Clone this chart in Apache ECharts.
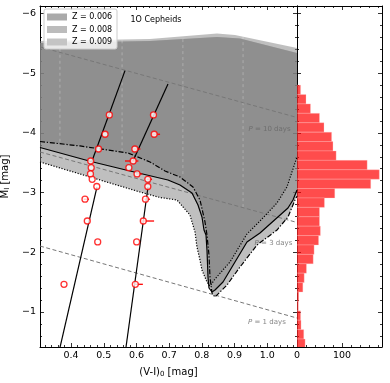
<!DOCTYPE html>
<html>
<head>
<meta charset="utf-8">
<script src="https://cdn.jsdelivr.net/npm/echarts@6/dist/echarts.min.js"></script>
<style>
  html, body { margin: 0; padding: 0; background: #fff; }
  #main { width: 390px; height: 383px; }
</style>
</head>
<body>
<div id="main"></div>
<script>
// axis ranges
var XMIN = 0.305, XMAX = 1.091;
var YMIN = -6.125, YMAX = -0.414;
var HMAX = 189;

var xTicks = [0.4, 0.5, 0.6, 0.7, 0.8, 0.9, 1.0];
var yTicks = [-6, -5, -4, -3, -2, -1];
var hTicks = [0, 100];

// instability strips (upper edge and lower edge, left -> right)
var top009 = [[0.305, -5.539], [0.6414, -5.573], [0.8463, -5.665], [0.9013, -5.640], [1.091, -5.422]];
var top008 = [[0.305, -5.506], [0.6414, -5.539], [0.8463, -5.606], [0.9166, -5.581], [1.091, -5.338]];
var top006 = top008;
var edge006 = [[0.305, -3.513], [0.4885, -3.211], [0.6108, -3.010], [0.672, -2.918], [0.724, -2.876], [0.7637, -2.625],
  [0.779, -2.340], [0.7851, -2.089], [0.7943, -1.871], [0.8004, -1.704], [0.8066, -1.620], [0.8157, -1.503],
  [0.8249, -1.436], [0.8402, -1.553], [0.8861, -1.838], [0.938, -2.307], [0.9778, -2.524], [1.0298, -2.826],
  [1.0603, -3.094], [1.0756, -3.345], [1.091, -3.596]];
var edge008 = [[0.305, -3.755], [0.461, -3.521], [0.5802, -3.362], [0.6964, -3.211], [0.7331, -3.127], [0.7698, -2.993],
  [0.7882, -2.792], [0.8004, -2.591], [0.8066, -2.374], [0.8127, -2.290], [0.8157, -2.039], [0.8188, -1.586],
  [0.8218, -1.402], [0.831, -1.335], [0.8402, -1.369], [0.8647, -1.503], [0.938, -2.173], [0.9778, -2.323],
  [1.0634, -2.742], [1.0787, -2.876], [1.091, -3.044]];
var edge009 = [[0.305, -3.856], [0.4273, -3.781], [0.5741, -3.663], [0.6414, -3.513], [0.6873, -3.362], [0.7331, -3.261],
  [0.7729, -3.094], [0.7943, -2.876], [0.8096, -2.508], [0.8157, -2.290], [0.8218, -1.955], [0.8249, -1.586],
  [0.831, -1.318], [0.8402, -1.251], [0.8769, -1.452], [0.9166, -1.753], [0.9686, -2.122], [1.0298, -2.373],
  [1.0634, -2.591], [1.0848, -2.876], [1.091, -2.94]];

// model grid columns [x, top, bottom]
var gridCols = [[0.366, -5.51, -3.83], [0.556, -5.55, -3.70], [0.742, -5.57, -3.28], [0.926, -5.62, -2.71]];

// constant period lines
var pLine10 = [[0.305, -5.44], [1.091, -4.258]];
var pLine3 = [[0.305, -3.68], [1.091, -2.50]];
var pLine1 = [[0.305, -2.105], [1.091, -0.899]];
var pLabels = [[1.007, -4.065, '10'], [1.019, -2.156, '3'], [0.999, -0.832, '1']];

// relations
var relAup = [[0.565, -5.042], [0.464, -3.529]];
var relAlow = [[0.4793, -3.094], [0.3662, -0.409]];
var relBup = [[0.6964, -4.819], [0.5894, -3.529]];
var relBlow = [[0.6353, -3.094], [0.568, -0.41]];

// stars
var mags = [-4.300, -3.977, -3.730, -3.529, -3.417, -3.312, -3.223, -3.102, -2.889, -2.524, -2.173, -1.464];
var colorA = [0.517, 0.504, 0.484, 0.460, 0.4616, 0.4594, 0.4646, 0.4787, 0.4426, 0.4496, 0.4815, 0.3784];
var colorB = [0.652, 0.6542, 0.5951, 0.5899, 0.5768, 0.6018, 0.6347, 0.6347, 0.6276, 0.6209, 0.6006, 0.5966];
var errA = [[0, 0], [0, 0], [0, 0], [0, 0], [0, 0], [0, 0], [0, 0], [0, 0], [0.004, 0.012], [0, 0], [0, 0], [0, 0]];
var errB = [[0, 0], [0.008, 0.018], [0.004, 0.017], [0.025, 0.016], [0, 0], [0.003, 0.016], [0.003, 0.013], [0, 0],
  [0.003, 0.014], [0.010, 0.033], [0, 0], [0.003, 0.023]];

// histogram of M_I
var binStart = -4.80, binWidth = 0.1575;
var counts = [8, 20, 30, 50, 60, 77, 80, 87, 156, 183, 164, 84, 61, 50, 50, 52, 48, 38, 36, 21, 16, 13, 4, 3, 8, 9, 15, 18];

var FONT = 'DejaVu Sans';

function minorList(a, b, step, majors) {
  var out = [];
  for (var v = a; v <= b + 1e-9; v += step) {
    var r = Math.round(v * 1000) / 1000;
    var isMajor = majors.some(function (m) { return Math.abs(m - r) < 1e-6; });
    if (!isMajor) out.push(r);
  }
  return out;
}
var xMinor = minorList(0.32, 1.08, 0.02, xTicks);
var yMinor = minorList(-6, -0.6, 0.2, yTicks);
var hMinor = minorList(20, 180, 20, hTicks);

function mkAxis(o) {
  return {
    type: 'value', gridIndex: o.grid, position: o.pos, min: o.min, max: o.max, inverse: !!o.inverse,
    name: o.name || '', nameLocation: 'middle', nameGap: o.gap || 20,
    nameTextStyle: { fontSize: 10, color: '#000', fontFamily: FONT,
      rich: { s: { fontSize: 7, fontFamily: FONT, color: '#000', padding: [5, 0, 0, 0] } } },
    axisLine: { show: !!o.line, onZero: false, lineStyle: { color: '#000', width: 1 } },
    axisTick: { show: true, inside: true, length: o.len, customValues: o.ticks, lineStyle: { color: '#000', width: 0.8 } },
    axisLabel: { show: !!o.labels, customValues: o.ticks, formatter: o.fmt, fontSize: 9.5, color: '#000', fontFamily: FONT, margin: 4 },
    splitLine: { show: false }, minorTick: { show: false }
  };
}
var fmtY = function (v) { return (v < 0 ? '\u2212' : '') + Math.abs(v); };
var fmtX = function (v) { return v.toFixed(1); };
var fmtH = function (v) { return String(v); };

var xAxes = [
  mkAxis({ grid: 0, pos: 'bottom', min: XMIN, max: XMAX, line: true, len: 4, ticks: xTicks, labels: true, fmt: fmtX, name: '(V-I){s|0} [mag]', gap: 19 }),
  mkAxis({ grid: 0, pos: 'bottom', min: XMIN, max: XMAX, len: 2, ticks: xMinor }),
  mkAxis({ grid: 0, pos: 'top', min: XMIN, max: XMAX, line: true, len: 4, ticks: xTicks }),
  mkAxis({ grid: 0, pos: 'top', min: XMIN, max: XMAX, len: 2, ticks: xMinor }),
  mkAxis({ grid: 1, pos: 'bottom', min: 0, max: HMAX, line: true, len: 4, ticks: hTicks, labels: true, fmt: fmtH }),
  mkAxis({ grid: 1, pos: 'bottom', min: 0, max: HMAX, len: 2, ticks: hMinor }),
  mkAxis({ grid: 1, pos: 'top', min: 0, max: HMAX, line: true, len: 4, ticks: hTicks }),
  mkAxis({ grid: 1, pos: 'top', min: 0, max: HMAX, len: 2, ticks: hMinor })
];
var yAxes = [
  mkAxis({ grid: 0, pos: 'left', min: YMIN, max: YMAX, inverse: true, line: true, len: 4, ticks: yTicks, labels: true, fmt: fmtY, name: 'M{s|I} [mag]', gap: 22 }),
  mkAxis({ grid: 0, pos: 'left', min: YMIN, max: YMAX, inverse: true, len: 2, ticks: yMinor }),
  mkAxis({ grid: 0, pos: 'right', min: YMIN, max: YMAX, inverse: true, line: true, len: 4, ticks: yTicks }),
  mkAxis({ grid: 0, pos: 'right', min: YMIN, max: YMAX, inverse: true, len: 2, ticks: yMinor }),
  mkAxis({ grid: 1, pos: 'left', min: YMIN, max: YMAX, inverse: true, line: true, len: 4, ticks: yTicks }),
  mkAxis({ grid: 1, pos: 'left', min: YMIN, max: YMAX, inverse: true, len: 2, ticks: yMinor }),
  mkAxis({ grid: 1, pos: 'right', min: YMIN, max: YMAX, inverse: true, line: true, len: 4, ticks: yTicks }),
  mkAxis({ grid: 1, pos: 'right', min: YMIN, max: YMAX, inverse: true, len: 2, ticks: yMinor })
];

function stripSeries(top, edge) {
  var poly = top.concat(edge.slice().reverse());
  return {
    type: 'custom', xAxisIndex: 0, yAxisIndex: 0, clip: true, silent: true, z: 1,
    data: [[XMIN, YMIN]],
    renderItem: function (params, api) {
      return { type: 'polygon', shape: { points: poly.map(function (p) { return api.coord(p); }) },
        style: { fill: 'rgba(128,128,128,0.5)' } };
    }
  };
}
function lineSeries(data, color, type, width, z) {
  return {
    type: 'line', xAxisIndex: 0, yAxisIndex: 0, data: data, symbol: 'none', silent: true, z: z || 3,
    lineStyle: { color: color, type: type, width: width }, clip: true
  };
}

var series = [
  stripSeries(top006, edge006),
  stripSeries(top008, edge008),
  stripSeries(top009, edge009)
];
gridCols.forEach(function (g) {
  series.push(lineSeries([[g[0], g[1]], [g[0], g[2]]], 'rgba(255,255,255,0.35)', [3, 3], 0.8, 2));
});
series.push(lineSeries(pLine10, '#777', [4, 2.5], 1));
series.push(lineSeries(pLine3, '#777', [4, 2.5], 1));
series.push(lineSeries(pLine1, '#777', [4, 2.5], 1));
series.push(lineSeries(edge006, '#000', [1.2, 1.6], 1.2, 4));
series.push(lineSeries(edge008, '#000', 'solid', 1.2, 4));
series.push(lineSeries(edge009, '#000', [5, 1.8, 1.3, 1.8], 1.2, 4));
series.push(lineSeries(relAup, '#000', 'solid', 1.2, 5));
series.push(lineSeries(relAlow, '#000', 'solid', 1.2, 5));
series.push(lineSeries(relBup, '#000', 'solid', 1.2, 5));
series.push(lineSeries(relBlow, '#000', 'solid', 1.2, 5));

// P labels
series.push({
  type: 'scatter', xAxisIndex: 0, yAxisIndex: 0, symbolSize: 0, silent: true, z: 6,
  data: pLabels.map(function (p) { return { value: [p[0], p[1]], name: p[2] }; }),
  label: {
    show: true, position: 'inside',
    formatter: function (p) { return '{i|P} = ' + p.name + ' days'; },
    fontSize: 7, color: '#666', fontFamily: FONT,
    rich: { i: { fontStyle: 'italic', fontSize: 7, color: '#666', fontFamily: FONT } }
  }
});

// error bars
var errData = [];
mags.forEach(function (m, i) {
  if (errA[i][0] || errA[i][1]) errData.push([colorA[i] - errA[i][0], colorA[i] + errA[i][1], m]);
  if (errB[i][0] || errB[i][1]) errData.push([colorB[i] - errB[i][0], colorB[i] + errB[i][1], m]);
});
series.push({
  type: 'custom', xAxisIndex: 0, yAxisIndex: 0, silent: true, z: 7, clip: true,
  data: errData, encode: { x: [0, 1], y: 2 },
  renderItem: function (params, api) {
    var a = api.coord([api.value(0), api.value(2)]);
    var b = api.coord([api.value(1), api.value(2)]);
    return { type: 'line', shape: { x1: a[0], y1: a[1], x2: b[0], y2: b[1] }, style: { stroke: '#ff0000', lineWidth: 1.3 } };
  }
});

// stars
var starData = mags.map(function (m, i) { return [colorA[i], m]; })
  .concat(mags.map(function (m, i) { return [colorB[i], m]; }));
series.push({
  type: 'scatter', xAxisIndex: 0, yAxisIndex: 0, silent: true, z: 8,
  symbol: 'circle', symbolSize: 6, data: starData,
  itemStyle: { color: '#fff', borderColor: '#ff0000', borderWidth: 1.3 }
});

// histogram
series.push({
  type: 'custom', xAxisIndex: 4, yAxisIndex: 4, silent: true, clip: true, z: 2,
  data: counts.map(function (c, i) { return [c, binStart + i * binWidth, binStart + (i + 1) * binWidth]; }),
  encode: { x: 0, y: [1, 2] },
  renderItem: function (params, api) {
    var p1 = api.coord([0, api.value(1)]);
    var p2 = api.coord([api.value(0), api.value(2)]);
    return { type: 'rect',
      shape: { x: p1[0], y: Math.min(p1[1], p2[1]), width: p2[0] - p1[0], height: Math.abs(p2[1] - p1[1]) },
      style: { fill: 'rgba(255,0,0,0.7)', stroke: 'rgba(255,200,200,0.6)', lineWidth: 0.5 } };
  }
});

var chart = echarts.init(document.getElementById('main'), null, { renderer: 'canvas' });
chart.setOption({
  animation: false,
  backgroundColor: '#fff',
  grid: [
    { left: 40, top: 6, width: 257, height: 341, outerBoundsMode: 'none', containLabel: false },
    { left: 297, top: 6, width: 85, height: 341, outerBoundsMode: 'none', containLabel: false }
  ],
  xAxis: xAxes,
  yAxis: yAxes,
  series: series,
  graphic: [
    { type: 'rect', z: 100, shape: { x: 44, y: 9, width: 73, height: 40, r: 2 },
      style: { fill: 'rgba(255,255,255,0.8)', stroke: '#cccccc', lineWidth: 1 } },
    { type: 'rect', z: 101, shape: { x: 47, y: 13.5, width: 20, height: 7 }, style: { fill: '#aaaaaa' } },
    { type: 'rect', z: 101, shape: { x: 47, y: 26, width: 20, height: 7 }, style: { fill: '#bcbcbc' } },
    { type: 'rect', z: 101, shape: { x: 47, y: 38.5, width: 20, height: 7 }, style: { fill: '#c4c4c4' } },
    { type: 'text', z: 101, style: { x: 72, y: 17, text: 'Z = 0.006', fontSize: 8, fontFamily: FONT, fill: '#000', verticalAlign: 'middle' } },
    { type: 'text', z: 101, style: { x: 72, y: 29.5, text: 'Z = 0.008', fontSize: 8, fontFamily: FONT, fill: '#000', verticalAlign: 'middle' } },
    { type: 'text', z: 101, style: { x: 72, y: 42, text: 'Z = 0.009', fontSize: 8, fontFamily: FONT, fill: '#000', verticalAlign: 'middle' } },
    { type: 'text', z: 101, style: { x: 156, y: 20, text: '1O Cepheids', fontSize: 8, fontFamily: FONT, fill: '#000', align: 'center', verticalAlign: 'middle' } }
  ]
});
</script>
</body>
</html>
